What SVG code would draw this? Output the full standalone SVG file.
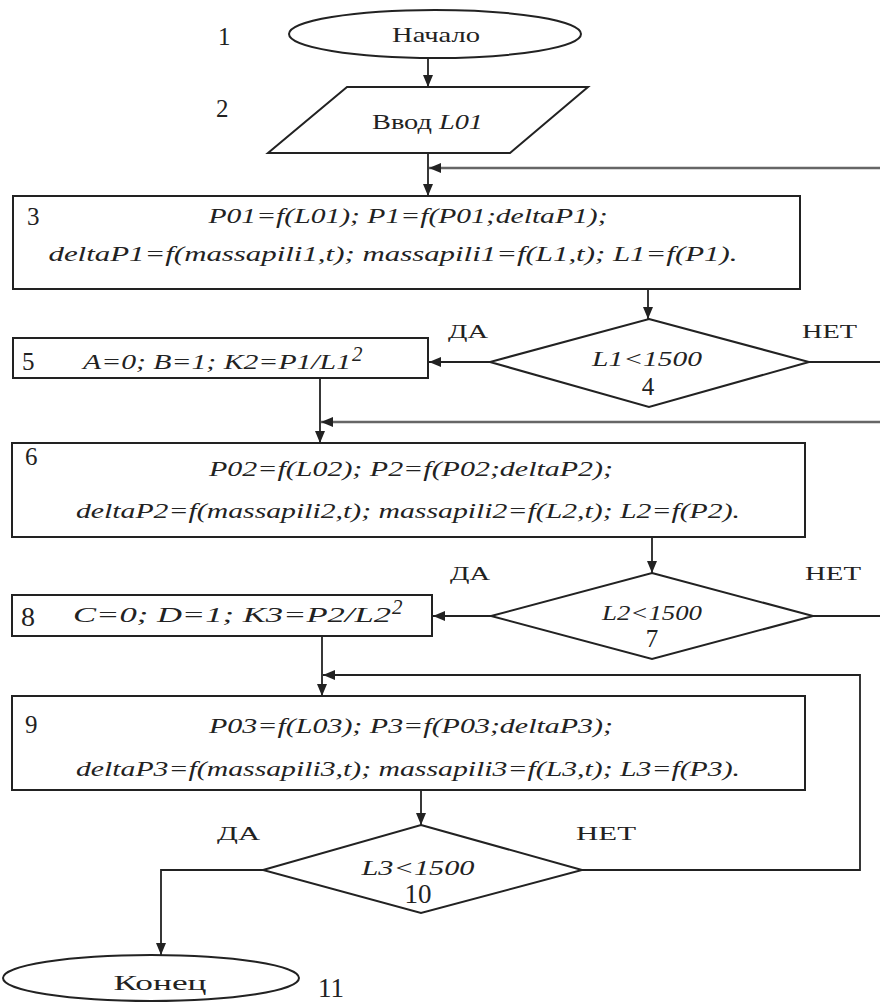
<svg xmlns="http://www.w3.org/2000/svg" width="880" height="1003" viewBox="0 0 880 1003">
<style>
.sh{fill:#fff;stroke:#222;stroke-width:2}
.ln{fill:none;stroke:#222;stroke-width:1.8}
.fb{fill:none;stroke:#666;stroke-width:2.6}
text{font-family:"Liberation Serif","DejaVu Serif","Times New Roman",serif;fill:#222}
.f{font-style:italic;font-size:21px}
.n{font-size:25px}
.lb{font-size:19px}
</style>
<defs>
<marker id="ar" markerUnits="userSpaceOnUse" markerWidth="12" markerHeight="10" refX="12" refY="5" orient="auto">
<path d="M0,0 L12,5 L0,10 z" fill="#222"/>
</marker>
</defs>
<rect width="880" height="1003" fill="#fff"/>
<g id="connectors">
<path class="ln" d="M428,58 V87" marker-end="url(#ar)"/>
<path class="ln" d="M428,153 V196" marker-end="url(#ar)"/>
<path class="fb" d="M880,168 H429" marker-end="url(#ar)"/>
<path class="ln" d="M648,289 V319" marker-end="url(#ar)"/>
<path class="ln" d="M490,362 H429" marker-end="url(#ar)"/>
<path class="ln" d="M809,362 H880"/>
<path class="ln" d="M320,378 V443" marker-end="url(#ar)"/>
<path class="fb" d="M880,422 H321" marker-end="url(#ar)"/>
<path class="ln" d="M652,537 V573" marker-end="url(#ar)"/>
<path class="ln" d="M491,616 H433" marker-end="url(#ar)"/>
<path class="ln" d="M813,616 H880"/>
<path class="ln" d="M322,636 V696" marker-end="url(#ar)"/>
<path class="ln" d="M582,870 H860 V675 H323" marker-end="url(#ar)"/>
<path class="ln" d="M421,790 V825" marker-end="url(#ar)"/>
<path class="ln" d="M263,870 H161 V955" marker-end="url(#ar)"/>
</g>
<g id="n1">
<ellipse class="sh" cx="435" cy="34" rx="146" ry="24"/>
<text x="436" y="42" font-size="21" text-anchor="middle" textLength="88" lengthAdjust="spacingAndGlyphs">Начало</text>
<text class="n" x="218" y="45">1</text>
</g>
<g id="n2">
<polygon class="sh" points="347,87 588,87 510,153 268,153"/>
<text x="372" y="129" font-size="21" textLength="111" lengthAdjust="spacingAndGlyphs">Ввод <tspan font-style="italic">L01</tspan></text>
<text class="n" x="216" y="117">2</text>
</g>
<g id="n3">
<rect class="sh" x="13" y="196" width="787" height="93"/>
<text class="n" x="27" y="225">3</text>
<text class="f" x="408" y="223" text-anchor="middle" textLength="399" lengthAdjust="spacingAndGlyphs">P01=f(L01); P1=f(P01;deltaP1);</text>
<text class="f" x="393" y="261" text-anchor="middle" textLength="689" lengthAdjust="spacingAndGlyphs">deltaP1=f(massapili1,t);  massapili1=f(L1,t); L1=f(P1).</text>
</g>
<g id="n4">
<polygon class="sh" points="649,319 809,362 649,407 490,362"/>
<text class="f" x="647" y="366" text-anchor="middle" textLength="110" lengthAdjust="spacingAndGlyphs">L1&lt;1500</text>
<text class="n" x="648" y="395" text-anchor="middle">4</text>
<text class="lb" x="448" y="338" textLength="40" lengthAdjust="spacingAndGlyphs">ДА</text>
<text class="lb" x="802" y="338" textLength="55" lengthAdjust="spacingAndGlyphs">НЕТ</text>
</g>
<g id="n5">
<rect class="sh" x="13" y="338" width="415" height="40"/>
<text class="n" x="22" y="370">5</text>
<text class="f" x="83" y="369" textLength="268" lengthAdjust="spacingAndGlyphs">A=0; B=1; K2=P1/L1</text>
<text class="f" x="352" y="361" font-size="13">2</text>
</g>
<g id="n6">
<rect class="sh" x="12" y="443" width="793" height="94"/>
<text class="n" x="25" y="465">6</text>
<text class="f" x="411" y="476" text-anchor="middle" textLength="404" lengthAdjust="spacingAndGlyphs">P02=f(L02); P2=f(P02;deltaP2);</text>
<text class="f" x="408" y="518" text-anchor="middle" textLength="664" lengthAdjust="spacingAndGlyphs">deltaP2=f(massapili2,t); massapili2=f(L2,t); L2=f(P2).</text>
</g>
<g id="n7">
<polygon class="sh" points="652,573 813,616 652,659 491,616"/>
<text class="f" x="652" y="620" text-anchor="middle" textLength="100" lengthAdjust="spacingAndGlyphs">L2&lt;1500</text>
<text class="n" x="652" y="647" text-anchor="middle">7</text>
<text class="lb" x="450" y="580" textLength="40" lengthAdjust="spacingAndGlyphs">ДА</text>
<text class="lb" x="805" y="580" textLength="56" lengthAdjust="spacingAndGlyphs">НЕТ</text>
</g>
<g id="n8">
<rect class="sh" x="12" y="595" width="420" height="41"/>
<text x="21" y="626" font-size="28">8</text>
<text class="f" x="73" y="622" textLength="318" lengthAdjust="spacingAndGlyphs">C=0; D=1; K3=P2/L2</text>
<text class="f" x="392" y="614" font-size="13">2</text>
</g>
<g id="n9">
<rect class="sh" x="12" y="696" width="793" height="94"/>
<text class="n" x="25" y="733">9</text>
<text class="f" x="411" y="733" text-anchor="middle" textLength="404" lengthAdjust="spacingAndGlyphs">P03=f(L03); P3=f(P03;deltaP3);</text>
<text class="f" x="408" y="776" text-anchor="middle" textLength="664" lengthAdjust="spacingAndGlyphs">deltaP3=f(massapili3,t); massapili3=f(L3,t); L3=f(P3).</text>
</g>
<g id="n10">
<polygon class="sh" points="421,825 582,870 421,913 263,870"/>
<text class="f" x="418" y="875" text-anchor="middle" textLength="113" lengthAdjust="spacingAndGlyphs">L3&lt;1500</text>
<text x="418" y="903" font-size="27" text-anchor="middle">10</text>
<text class="lb" x="217" y="840" textLength="43" lengthAdjust="spacingAndGlyphs">ДА</text>
<text class="lb" x="576" y="840" textLength="60" lengthAdjust="spacingAndGlyphs">НЕТ</text>
</g>
<g id="n11">
<ellipse class="sh" cx="151" cy="978" rx="148" ry="23"/>
<text x="160" y="990" font-size="20" text-anchor="middle" textLength="93" lengthAdjust="spacingAndGlyphs">Конец</text>
<text x="318" y="997" font-size="27">11</text>
</g>
</svg>
